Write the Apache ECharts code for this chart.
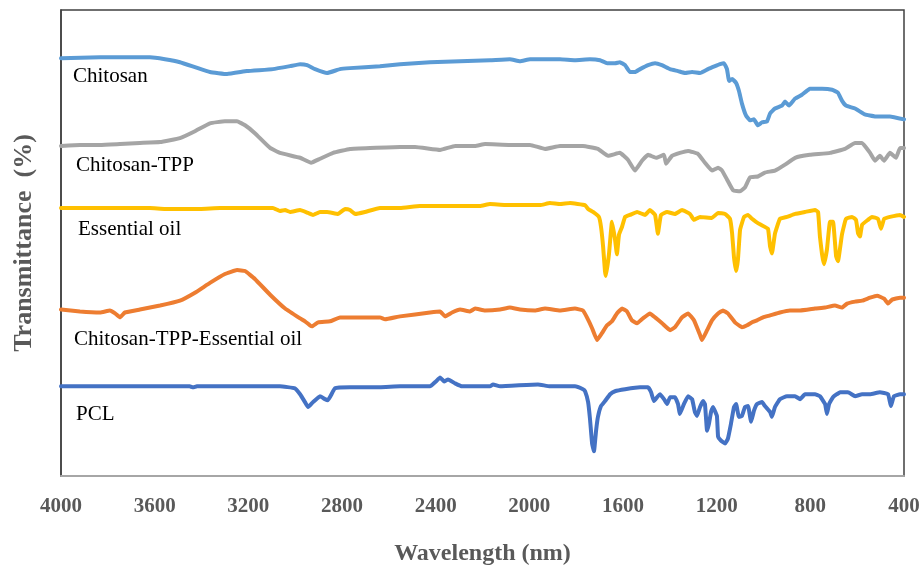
<!DOCTYPE html>
<html>
<head>
<meta charset="utf-8">
<script src="https://cdn.jsdelivr.net/npm/echarts@6/dist/echarts.min.js"></script>
<style>
  html, body { margin: 0; padding: 0; background: #fff; overflow: hidden; }
  #chart { width: 924px; height: 571px; }
</style>
</head>
<body>
<div id="chart"></div>
<script>
// wavenumber ticks shown on the x axis
const xTicks = [4000, 3600, 3200, 2800, 2400, 2000, 1600, 1200, 800, 400];

// [wavenumber, transmittance (offset, a.u.)]
const chitosan = [
  [4000,424],[3833,425],[3620,425],[3556,423],[3492,420],[3428,415],[3364,410],[3291,408],
  [3206,411],[3095,413],[3022,416],[2979,418],[2949,417],[2915,413],[2864,409],[2809,413],
  [2766,414],[2638,416],[2552,418],[2424,420],[2296,421],[2168,422],[2083,423],[2040,421],
  [1997,423],[1869,423],[1805,422],[1741,423],[1698,422],[1668,419],[1634,419],[1613,420],
  [1591,417],[1570,410],[1549,410],[1527,413],[1493,417],[1463,419],[1434,417],[1399,413],
  [1365,411],[1335,409],[1305,410],[1271,409],[1237,413],[1207,416],[1186,418],[1169,419],
  [1156,413],[1147,401],[1134,403],[1117,399],[1105,391],[1092,378],[1075,366],[1058,361],
  [1041,362],[1024,356],[1006,359],[985,360],[972,368],[951,373],[921,376],[908,380],
  [891,376],[866,383],[836,387],[802,393],[750,393],[707,392],[682,389],[665,381],
  [648,376],[609,373],[567,367],[524,365],[460,365],[400,362]
];

const chitosanTpp = [
  [4000,335],[3919,336],[3833,336],[3748,337],[3663,338],[3577,339],[3492,343],[3428,350],
  [3364,358],[3300,360],[3248,360],[3214,356],[3172,348],[3107,333],[3065,328],[2979,323],
  [2932,318],[2894,322],[2838,328],[2766,332],[2680,333],[2552,334],[2488,334],[2381,331],
  [2317,335],[2232,335],[2189,337],[2083,336],[1997,336],[1933,332],[1869,335],[1771,335],
  [1707,332],[1664,325],[1613,328],[1579,321],[1549,310],[1519,320],[1493,326],[1459,323],
  [1425,326],[1416,317],[1391,325],[1357,328],[1322,330],[1280,327],[1250,318],[1220,310],
  [1194,313],[1177,310],[1156,301],[1130,290],[1100,289],[1079,293],[1058,303],[1024,304],
  [994,308],[951,310],[908,316],[865,323],[802,326],[716,328],[652,332],[609,338],
  [579,338],[545,328],[524,320],[503,325],[485,320],[460,328],[434,323],[417,333],[400,333]
];

const essentialOil = [
  [4000,272],[3833,272],[3620,272],[3556,271],[3406,271],[3321,272],[3095,272],[3065,269],
  [3043,270],[3022,268],[2979,270],[2945,267],[2924,265],[2894,268],[2864,268],[2817,266],
  [2787,271],[2766,270],[2744,266],[2702,268],[2638,272],[2552,272],[2467,274],[2339,274],
  [2211,274],[2168,276],[2104,275],[2040,275],[1954,275],[1912,277],[1869,276],[1826,277],
  [1762,275],[1749,271],[1728,268],[1703,263],[1694,253],[1685,233],[1677,208],[1673,203],
  [1660,225],[1647,258],[1634,240],[1626,225],[1617,245],[1604,253],[1591,263],[1570,265],
  [1540,268],[1506,265],[1485,270],[1463,265],[1451,246],[1438,265],[1412,268],[1378,266],
  [1348,270],[1314,266],[1297,260],[1271,263],[1220,262],[1194,267],[1164,266],[1143,261],
  [1134,246],[1126,222],[1117,208],[1109,220],[1100,250],[1083,263],[1066,265],[1049,261],
  [1032,258],[1011,255],[981,251],[972,233],[964,226],[951,246],[930,261],[900,263],
  [865,266],[823,268],[780,270],[767,268],[759,243],[750,225],[742,215],[729,230],
  [716,258],[703,258],[690,223],[682,218],[665,245],[648,261],[622,263],[605,260],
  [596,246],[588,243],[579,255],[554,260],[537,263],[511,261],[498,251],[485,261],
  [460,263],[417,265],[400,263]
];

const chitosanTppOil = [
  [4000,169],[3919,167],[3833,166],[3791,168],[3769,165],[3748,161],[3727,166],[3663,169],
  [3577,173],[3492,178],[3428,186],[3364,196],[3300,205],[3248,209],[3214,208],[3172,200],
  [3107,184],[3043,170],[2979,160],[2958,157],[2937,153],[2928,152],[2902,156],[2851,157],
  [2809,161],[2638,161],[2616,159],[2552,162],[2424,166],[2381,167],[2360,162],[2330,166],
  [2296,169],[2253,167],[2232,170],[2189,168],[2125,169],[2083,171],[2040,169],[1976,168],
  [1933,170],[1869,168],[1805,170],[1771,168],[1754,161],[1732,150],[1711,138],[1690,145],
  [1668,153],[1647,157],[1626,165],[1604,170],[1583,167],[1562,158],[1540,155],[1515,160],
  [1485,165],[1463,161],[1433,155],[1399,148],[1378,151],[1348,161],[1322,165],[1297,158],
  [1271,143],[1263,138],[1241,148],[1220,158],[1194,165],[1173,168],[1152,165],[1122,156],
  [1092,151],[1070,153],[1049,156],[1028,158],[1002,161],[972,163],[930,166],[887,168],
  [844,168],[780,170],[737,171],[695,173],[665,171],[643,175],[609,177],[579,178],
  [545,181],[515,183],[485,180],[468,175],[451,179],[417,181],[400,181]
];

const pcl = [
  [4000,91],[3620,91],[3450,91],[3436,90],[3420,91],[3065,91],[3001,89],[2979,83],
  [2958,75],[2945,70],[2924,75],[2894,81],[2873,78],[2860,77],[2830,89],[2766,90],
  [2638,90],[2552,91],[2424,91],[2399,96],[2381,100],[2364,96],[2347,98],[2317,94],
  [2288,91],[2168,91],[2155,93],[2125,91],[1963,93],[1912,91],[1805,91],[1771,88],
  [1762,86],[1749,75],[1741,58],[1732,33],[1724,25],[1715,46],[1707,60],[1694,71],
  [1677,76],[1655,83],[1634,86],[1591,88],[1527,90],[1493,90],[1480,85],[1468,76],
  [1451,81],[1442,83],[1425,78],[1412,73],[1399,80],[1378,80],[1365,73],[1357,63],
  [1340,73],[1322,81],[1305,78],[1293,65],[1284,61],[1271,70],[1258,76],[1250,73],
  [1241,46],[1233,53],[1224,65],[1216,70],[1199,61],[1194,40],[1182,36],[1164,33],
  [1152,38],[1139,53],[1126,70],[1117,73],[1105,60],[1092,61],[1079,70],[1066,71],
  [1053,55],[1041,66],[1028,73],[1006,75],[994,71],[972,65],[964,60],[951,70],
  [930,78],[900,81],[865,81],[844,78],[823,83],[780,83],[759,81],[737,73],
  [729,63],[720,73],[703,80],[673,85],[639,85],[609,81],[579,83],[545,83],
  [503,85],[468,83],[456,71],[443,81],[417,83],[400,83]
];

const seriesNames = ["Chitosan", "Chitosan-TPP", "Essential oil", "Chitosan-TPP-Essential oil", "PCL"];
const seriesData = [chitosan, chitosanTpp, essentialOil, chitosanTppOil, pcl];
const seriesColors = ["#5B9BD5", "#A5A5A5", "#FFC000", "#ED7D31", "#4472C4"];
// label anchor (left x, middle y) inside the plot
const labelPos = [[73, 78], [76, 167], [78, 231], [74, 341], [76, 416]];

(() => {
  let myChart = echarts.init(document.querySelector("#chart"));
  let option = {
    animation: false,
    grid: {
      left: 61,
      right: 20,
      top: 10,
      bottom: 89,
      show: true,
      borderColor: "#404040",
      borderWidth: 1.5,
    },
    xAxis: {
      type: "value",
      inverse: true,
      min: 400,
      max: 4000,
      interval: 400,
      name: "Wavelength (nm)",
      nameLocation: "middle",
      nameGap: 66,
      nameTextStyle: {
        fontFamily: "Liberation Serif",
        fontWeight: "bold",
        fontSize: 24,
        color: "#595959",
      },
      axisLine: {
        lineStyle: { color: "#A6A6A6", width: 2 },
      },
      axisTick: { show: false },
      splitLine: { show: false },
      axisLabel: {
        margin: 20,
        fontFamily: "Liberation Serif",
        fontWeight: "bold",
        fontSize: 21,
        color: "#595959",
        formatter: (v) => (xTicks.includes(v) ? String(v) : ""),
      },
    },
    yAxis: {
      type: "value",
      min: 0,
      max: 473,
      name: "Transmittance  (%)",
      nameLocation: "middle",
      nameGap: 24,
      nameTextStyle: {
        fontFamily: "Liberation Serif",
        fontWeight: "bold",
        fontSize: 26,
        color: "#595959",
      },
      axisLine: {
        show: true,
        lineStyle: { color: "#404040", width: 1.5 },
      },
      axisTick: { show: false },
      axisLabel: { show: false },
      splitLine: { show: false },
    },
    graphic: seriesNames.map((n, i) => ({
      type: "text",
      left: labelPos[i][0],
      top: labelPos[i][1] - 12,
      style: {
        text: n,
        font: "21px 'Liberation Serif'",
        fill: "#000",
      },
    })),
    series: seriesData.map((d, i) => ({
      name: seriesNames[i],
      type: "line",
      data: d,
      showSymbol: false,
      smooth: 0.1,
      lineStyle: {
        color: seriesColors[i],
        width: 4,
        cap: "round",
        join: "round",
      },
    })),
  };
  myChart.setOption(option);
  window.addEventListener("resize", () => {
    myChart.resize();
  });
})();
</script>
</body>
</html>
